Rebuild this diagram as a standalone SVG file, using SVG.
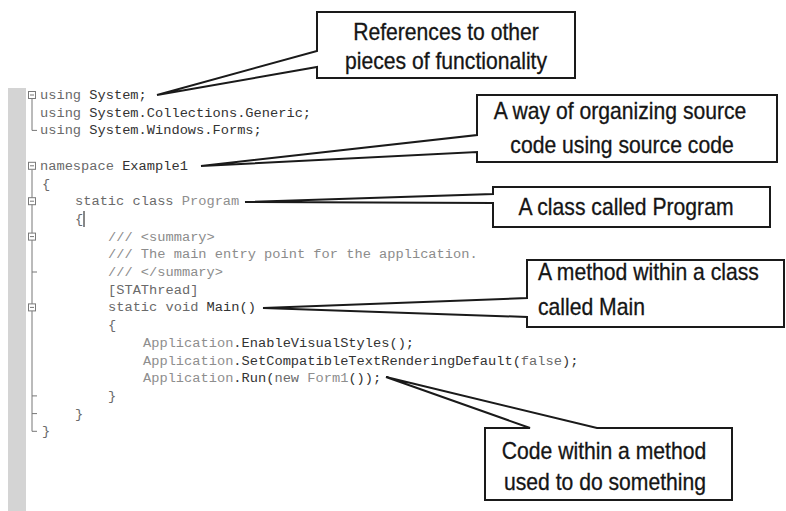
<svg xmlns="http://www.w3.org/2000/svg" width="786" height="511" viewBox="0 0 786 511">
<style>
.code{font-family:"Liberation Mono","Courier New",monospace;font-size:13.7px;fill:#333}
.kw{fill:#6a6a6a}
.ty{fill:#8e8e8e}
.cm{fill:#8c8c8c}
.gut{stroke:#777;stroke-width:1;fill:none}
.box{fill:#fff;stroke:#7a7a7a;stroke-width:1}
.call{fill:#fff;stroke:#1a1a1a;stroke-width:2;stroke-linejoin:miter}
.lbl{font-family:"Liberation Sans",Arial,sans-serif;font-size:23px;fill:#151515;stroke:#151515;stroke-width:0.3}
</style>
<rect width="786" height="511" fill="#fff"/>
<rect x="8" y="88" width="18" height="423" fill="#d4d4d4"/>
<g id="gutter">
<path class="gut" d="M32,99 V130.4 H37 M32,169.8 V431.3 H37 M32,272 H37 M32,395.9 H37 M32,413.6 H37"/>
<rect class="box" x="28.5" y="91.5" width="7" height="7"/>
<rect class="box" x="28.5" y="162.3" width="7" height="7"/>
<rect class="box" x="28.5" y="197.7" width="7" height="7"/>
<rect class="box" x="28.5" y="233.1" width="7" height="7"/>
<rect class="box" x="28.5" y="303.9" width="7" height="7"/>
<path class="gut" d="M30,95 H34 M30,165.8 H34 M30,201.2 H34 M30,236.6 H34 M30,307.4 H34"/>
</g>
<g id="code" class="code">
<text x="40" y="99"><tspan class="kw">using</tspan> System;</text>
<text x="40" y="116.7"><tspan class="kw">using</tspan> System.Collections.Generic;</text>
<text x="40" y="134.4"><tspan class="kw">using</tspan> System.Windows.Forms;</text>
<text x="40" y="169.8"><tspan class="kw">namespace</tspan> Example1</text>
<text x="42" y="187.5" class="kw">{</text>
<text x="75" y="205.2"><tspan class="kw">static class</tspan> <tspan class="ty">Program</tspan></text>
<text x="75" y="222.9" class="kw">{</text>
<text x="108" y="240.6" class="cm">/// &lt;summary&gt;</text>
<text x="108" y="258.3" class="cm">/// The main entry point for the application.</text>
<text x="108" y="276" class="cm">/// &lt;/summary&gt;</text>
<text x="108" y="293.7" class="kw">[STAThread]</text>
<text x="108" y="311.4"><tspan class="kw">static void</tspan> Main()</text>
<text x="108" y="329.1" class="kw">{</text>
<text x="143" y="346.8"><tspan class="ty">Application</tspan>.EnableVisualStyles();</text>
<text x="143" y="364.5"><tspan class="ty">Application</tspan>.SetCompatibleTextRenderingDefault(<tspan class="kw">false</tspan>);</text>
<text x="143" y="382.2"><tspan class="ty">Application</tspan>.Run(<tspan class="kw">new</tspan> <tspan class="ty">Form1</tspan>());</text>
<text x="108" y="399.9" class="kw">}</text>
<text x="75" y="417.6" class="kw">}</text>
<text x="42" y="435.3" class="kw">}</text>
</g>
<line x1="84" y1="211" x2="84" y2="227" stroke="#111" stroke-width="1"/>
<g id="connectors">
<path class="call" d="M317,12 H575 V78 H317 V67 L157,95 L317,51 Z"/>
<path class="call" d="M477,95 H777 V162 H477 V152 L201,166 L477,135 Z"/>
<path class="call" d="M493,187 H770 V227 H493 V203 L245,202 L493,194 Z"/>
<path class="call" d="M527,260 H784 V327 H527 V317 L263,308 L527,298 Z"/>
<path class="call" d="M485,428 H530 L386,377 L597,428 H732 V500 H485 Z"/>
</g>
<g id="c1"><text class="lbl" transform="translate(446,0) scale(0.92,1)" x="0" y="40" text-anchor="middle">References to other</text><text class="lbl" transform="translate(446,0) scale(0.92,1)" x="0" y="69" text-anchor="middle">pieces of functionality</text></g>
<g id="c2"><text class="lbl" transform="translate(620,0) scale(0.92,1)" x="0" y="119" text-anchor="middle">A way of organizing source</text><text class="lbl" transform="translate(622,0) scale(0.92,1)" x="0" y="153" text-anchor="middle">code using source code</text></g>
<g id="c3"><text class="lbl" transform="translate(626,0) scale(0.92,1)" x="0" y="215" text-anchor="middle">A class called Program</text></g>
<g id="c4"><text class="lbl" transform="translate(538,0) scale(0.92,1)" x="0" y="280">A method within a class</text><text class="lbl" transform="translate(538,0) scale(0.92,1)" x="0" y="315">called Main</text></g>
<g id="c5"><text class="lbl" transform="translate(604,0) scale(0.92,1)" x="0" y="459" text-anchor="middle">Code within a method</text><text class="lbl" transform="translate(605,0) scale(0.92,1)" x="0" y="490" text-anchor="middle">used to do something</text></g>
</svg>
